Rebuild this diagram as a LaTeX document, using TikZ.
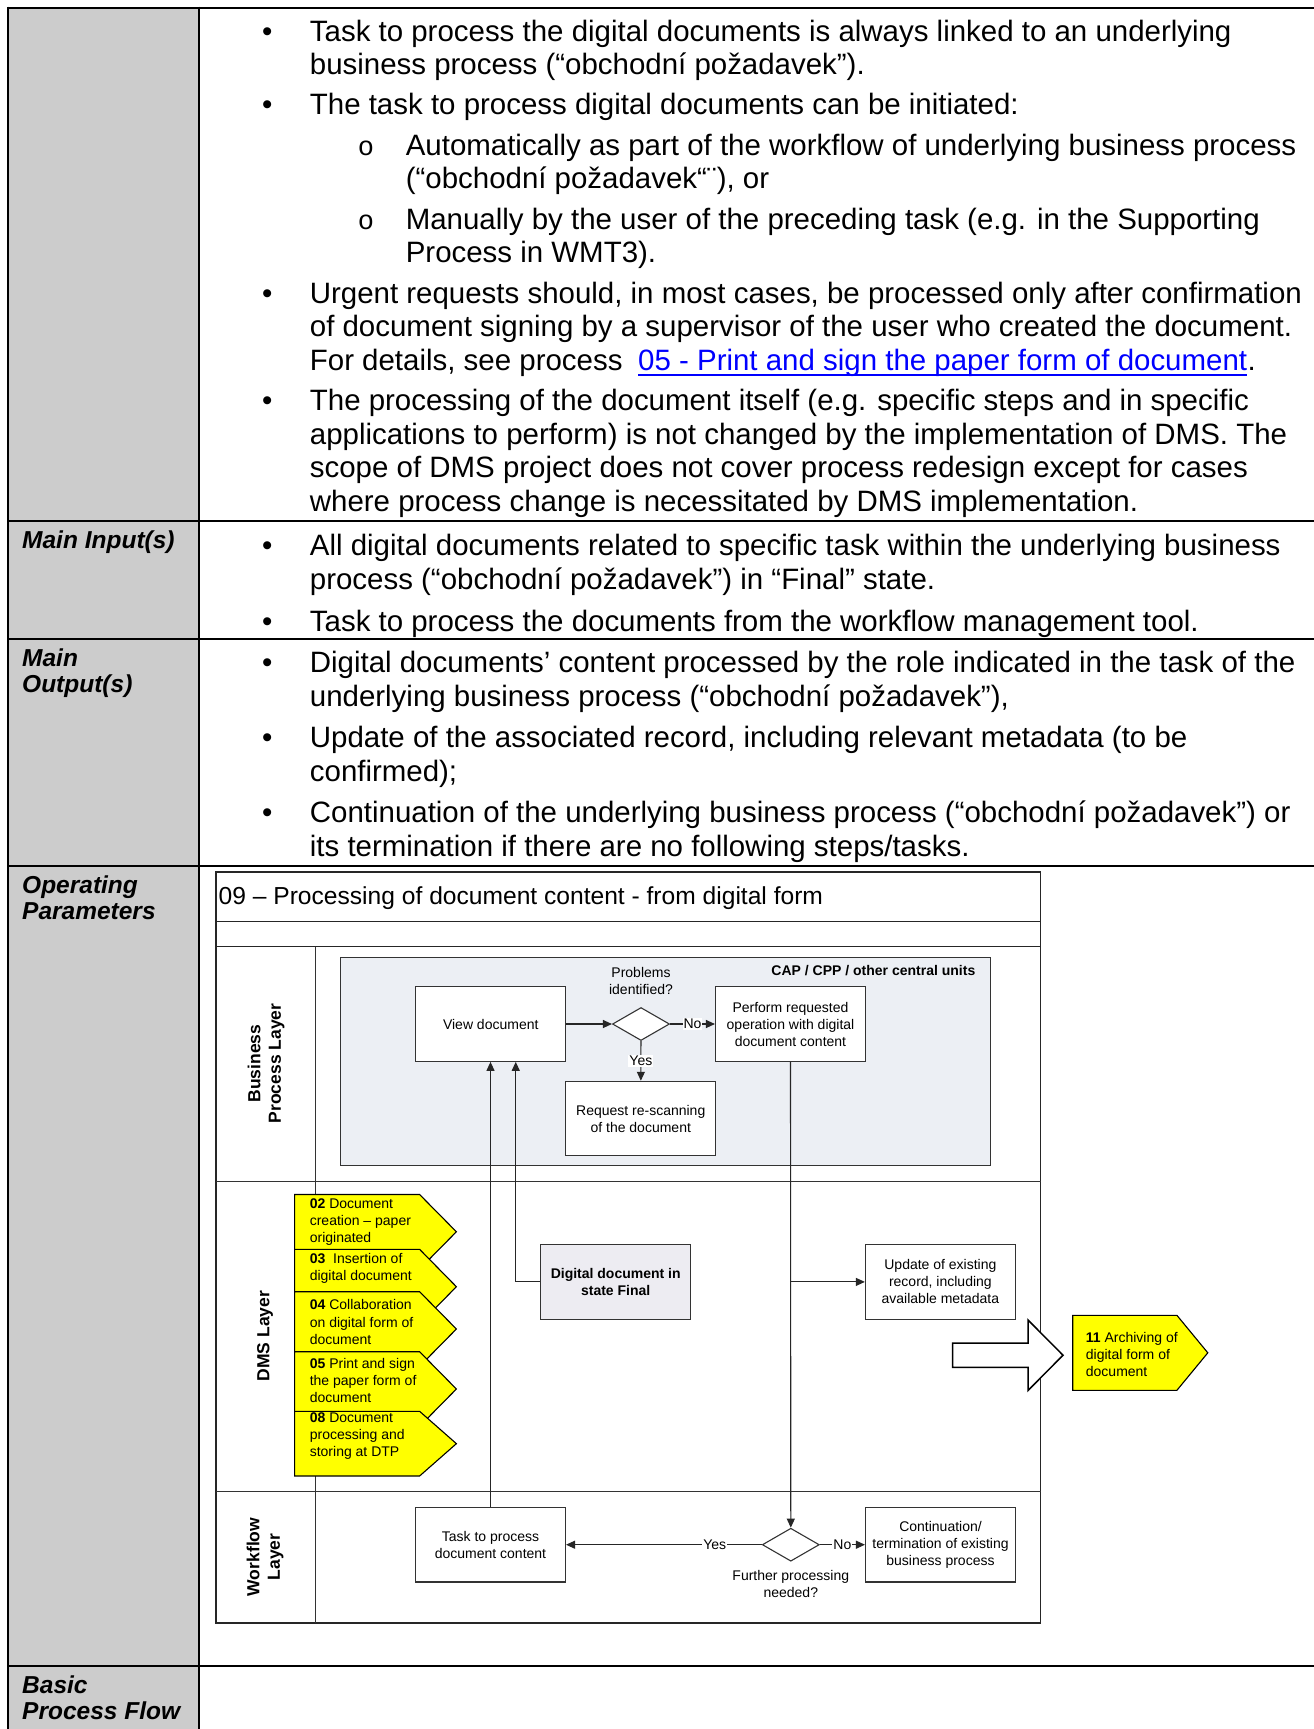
\documentclass[tikz,border=0pt]{standalone}
\usepackage{fontspec}
\setmainfont{Liberation Sans}[Ligatures={TeX,CommonOff}]
\newfontfamily\bulletmono{Liberation Mono}
\usetikzlibrary{arrows.meta,calc,shapes.geometric}
\definecolor{linkblue}{RGB}{0,0,255}
\definecolor{labelgray}{RGB}{204,204,204}
\definecolor{unitfill}{RGB}{236,239,244}
\definecolor{statefill}{RGB}{237,236,242}
\definecolor{procyellow}{RGB}{255,255,0}

\begin{document}
\begin{tikzpicture}[x=1pt,y=-1pt,
  tableline/.style={line width=2pt, black},
  bodytext/.style={anchor=base west, inner sep=0pt, font=\fontsize{29.45}{33.6}\selectfont},
  bulletmark/.style={anchor=base, inner sep=0pt, font=\fontsize{29.45}{33.6}\selectfont},
  submark/.style={anchor=base, inner sep=0pt, font=\fontsize{27}{33.6}\selectfont\bulletmono},
  rowhead/.style={anchor=base west, inner sep=0pt, font=\fontsize{24.5}{26.8}\selectfont\bfseries\itshape},
  frameline/.style={draw=black!85, line width=1.3pt},
  laneline/.style={draw=black!80, line width=1pt},
  lanetitle/.style={rotate=90, align=center, inner sep=0pt, font=\fontsize{17.5}{20.5}\selectfont\bfseries},
  stepbox/.style={draw=black!80, line width=1.1pt, fill=white, minimum width=150pt, minimum height=74.6pt, inner sep=0pt, align=center, font=\fontsize{14}{17}\selectfont},
  decision/.style={diamond, draw=black!80, line width=1.1pt, fill=white, minimum width=57pt, minimum height=33pt, inner sep=0pt},
  flow/.style={draw=black!85, line width=1.1pt, -{Triangle[length=9pt,width=8pt]}},
  flowlabel/.style={fill=white, inner sep=1pt, font=\fontsize{14}{17}\selectfont},
  smalltext/.style={inner sep=0pt, align=center, font=\fontsize{14}{17}\selectfont},
  procshape/.style={fill=procyellow, draw=black, line width=1.1pt, line join=miter},
  proctext/.style={anchor=west, inner sep=0pt, align=left, font=\fontsize{14}{17.2}\selectfont},
]
\useasboundingbox (0,0) rectangle (1314,1729);

% ---------- table ----------
\fill[labelgray] (7.5,7.5) rectangle (198.5,1729);
\draw[tableline] (7.5,7.5) -- (1314,7.5);
\draw[tableline] (7.5,521) -- (1314,521);
\draw[tableline] (7.5,639) -- (1314,639);
\draw[tableline] (7.5,866) -- (1314,866);
\draw[tableline] (7.5,1666) -- (1314,1666);
\draw[tableline] (7.5,6.5) -- (7.5,1729);
\draw[tableline] (198.5,6.5) -- (198.5,1729);

% row headings
\node[rowhead] (h1a) at (22,548) {Main Input(s)};
\node[rowhead] (h2a) at (22,666) {Main};
\node[rowhead] (h2b) at (22,692.8) {Output(s)};
\node[rowhead] (h3a) at (22,893) {Operating};
\node[rowhead] (h3b) at (22,919.8) {Parameters};
\node[rowhead] (h4a) at (22,1693) {Basic};
\node[rowhead] (h4b) at (22,1719.8) {Process Flow};

% first row
\node[bulletmark] (b1) at (267.3,41) {•};
\node[bodytext] (t1) at (309.7,41) {Task to process the digital documents is always linked to an underlying};
\node[bodytext] (t2) at (309.7,74.6) {business process (“obchodní požadavek”).};
\node[bulletmark] (b2) at (267.3,114.9) {•};
\node[bodytext] (t3) at (309.7,114.9) {The task to process digital documents can be initiated:};
\node[submark] (s1) at (366,155.2) {o};
\node[bodytext] (t4) at (405.6,155.2) {Automatically as part of the workflow of underlying business process};
\node[bodytext] (t5) at (405.6,188.8) {(“obchodní požadavek“¨), or};
\node[submark] (s2) at (366,229.1) {o};
\node[bodytext] (t6) at (405.6,229.1) {Manually by the user of the preceding task (e.g. in the Supporting};
\node[bodytext] (t7) at (405.6,262.7) {Process in WMT3).};
\node[bulletmark] (b3) at (267.3,303) {•};
\node[bodytext] (t8) at (309.7,303) {Urgent requests should, in most cases, be processed only after confirmation};
\node[bodytext] (t9) at (309.7,336.6) {of document signing by a supervisor of the user who created the document.};
\node[bodytext] (t10) at (309.7,370.2) {For details, see process};
\node[bodytext, text=linkblue] (link) at (638,370.2) {05 - Print and sign the paper form of document};
\node[bodytext] (stop) at (link.base east) {.};
\draw[linkblue, line width=1.8pt] ($(link.base west)+(0,4.5)$) -- ($(link.base east)+(0,4.5)$);
\node[bulletmark] (b4) at (267.3,410.5) {•};
\node[bodytext] (t11) at (309.7,410.5) {The processing of the document itself (e.g. specific steps and in specific};
\node[bodytext] (t12) at (309.7,444.1) {applications to perform) is not changed by the implementation of DMS. The};
\node[bodytext] (t13) at (309.7,477.7) {scope of DMS project does not cover process redesign except for cases};
\node[bodytext] (t14) at (309.7,511.3) {where process change is necessitated by DMS implementation.};

% inputs
\node[bulletmark] (b5) at (267.3,555.5) {•};
\node[bodytext] (t15) at (309.7,555.5) {All digital documents related to specific task within the underlying business};
\node[bodytext] (t16) at (309.7,589.5) {process (“obchodní požadavek”) in “Final” state.};
\node[bulletmark] (b6) at (267.3,631) {•};
\node[bodytext] (t17) at (309.7,631) {Task to process the documents from the workflow management tool.};

% outputs
\node[bulletmark] (b7) at (267.3,672.3) {•};
\node[bodytext] (t18) at (309.7,672.3) {Digital documents’ content processed by the role indicated in the task of the};
\node[bodytext] (t19) at (309.7,706.3) {underlying business process (“obchodní požadavek”),};
\node[bulletmark] (b8) at (267.3,747.3) {•};
\node[bodytext] (t20) at (309.7,747.3) {Update of the associated record, including relevant metadata (to be};
\node[bodytext] (t21) at (309.7,781.3) {confirmed);};
\node[bulletmark] (b9) at (267.3,822.5) {•};
\node[bodytext] (t22) at (309.7,822.5) {Continuation of the underlying business process (“obchodní požadavek”) or};
\node[bodytext] (t23) at (309.7,856.5) {its termination if there are no following steps/tasks.};

% ---------- process map ----------
\fill[white] (216,872) rectangle (1040.6,1623);
\draw[frameline] (216,872) rectangle (1040.6,1623);
\draw[frameline] (216,921.5) -- (1040.6,921.5);
\draw[frameline] (216,946.5) -- (1040.6,946.5);
\draw[laneline] (315.5,946.5) -- (315.5,1623);
\draw[laneline] (216,1181) -- (1040.6,1181);
\draw[laneline] (216,1491.5) -- (1040.6,1491.5);

\node[anchor=base west, inner sep=0pt, font=\fontsize{24.6}{28}\selectfont] (title) at (218.5,904) {09 – Processing of document content - from digital form};

\node[lanetitle] (lane1) at (266,1063.5) {Business\\Process Layer};
\node[lanetitle] (lane2) at (265,1336) {DMS Layer};
\node[lanetitle] (lane3) at (265,1557) {Workflow\\Layer};

% central units container
\node[draw=black!80, line width=1pt, fill=unitfill, minimum width=649.6pt, minimum height=208.5pt, inner sep=0pt] (unit) at (665.4,1061.25) {};
\node[anchor=east, inner sep=0pt, font=\fontsize{14}{17}\selectfont\bfseries] (unitname) at (975.5,971) {CAP / CPP / other central units};

% steps
\node[stepbox] (view) at (490.75,1024) {View document};
\node[decision] (dec1) at (641,1024) {};
\node[smalltext] (dec1q) at (641,981) {Problems\\identified?};
\node[stepbox] (perform) at (790.5,1024) {Perform requested\\operation with digital\\document content};
\node[stepbox] (rescan) at (640.75,1118.6) {Request re-scanning\\of the document};
\node[stepbox, fill=statefill, font=\fontsize{14}{17}\selectfont\bfseries] (digital) at (615.7,1281.9) {Digital document in\\state Final};
\node[stepbox] (update) at (940.4,1281.9) {Update of existing\\record, including\\available metadata};
\node[stepbox] (task) at (490.5,1544.7) {Task to process\\document content};
\node[decision] (dec2) at (790.8,1544.7) {};
\node[smalltext] (dec2q) at (790.8,1584) {Further processing\\needed?};
\node[stepbox] (cont) at (940.5,1544.7) {Continuation/\\termination of existing\\business process};

% connectors
\draw[flow] (view) -- (dec1);
\draw[flow] (dec1) -- node[flowlabel] (no1) {No} (perform);
\draw[flow] (dec1) -- node[flowlabel] (yes1) {Yes} (rescan);
\draw[flow] (task.north) -- (task.north |- view.south);
\coordinate (viewin) at ($(view.south)+(25,0)$);
\draw[flow] (digital.west) -| (viewin);
\draw[flow] (perform.south) -- (dec2.north);
\coordinate (tap) at (perform.south |- update.west);
\draw[flow] (tap) -- (update.west);
\draw[flow] (dec2) -- node[flowlabel, pos=0.24] (yes2) {Yes} (task);
\draw[flow] (dec2) -- node[flowlabel] (no2) {No} (cont);

% preceding processes
\draw[procshape] (294.6,1194.5) -- (419.6,1194.5) -- (456.4,1231.75) -- (419.6,1269) -- (294.6,1269) -- cycle;
\node[proctext] (p02) at (309.6,1222.3) {\textbf{02} Document\\creation – paper\\originated};
\draw[procshape] (294.6,1249.3) -- (419.6,1249.3) -- (456.4,1286.7) -- (419.6,1324.1) -- (294.6,1324.1) -- cycle;
\node[proctext] (p03) at (309.6,1268.7) {\textbf{03}\ \ Insertion of\\digital document};
\draw[procshape] (294.6,1291.7) -- (419.6,1291.7) -- (456.4,1329) -- (419.6,1366.3) -- (294.6,1366.3) -- cycle;
\node[proctext] (p04) at (309.6,1322) {\textbf{04} Collaboration\\on digital form of\\document};
\draw[procshape] (294.6,1351.7) -- (419.6,1351.7) -- (456.4,1389) -- (419.6,1426.3) -- (294.6,1426.3) -- cycle;
\node[proctext] (p05) at (309.6,1380.3) {\textbf{05} Print and sign\\the paper form of\\document};
\draw[procshape] (294.6,1411.3) -- (419.6,1411.3) -- (456.4,1443.65) -- (419.6,1476) -- (294.6,1476) -- cycle;
\node[proctext] (p08) at (309.6,1436.2) {\textbf{08} Document\\processing and\\storing at DTP};

% hand-over to the next process
\draw[line width=1.5pt, fill=white, line join=miter] (952.5,1343) -- (1028,1343) -- (1028,1320) -- (1063,1355.2) -- (1028,1390.5) -- (1028,1367.3) -- (952.5,1367.3) -- cycle;
\draw[procshape] (1072.7,1315.3) -- (1176.9,1315.3) -- (1207.8,1352.8) -- (1176.9,1390.3) -- (1072.7,1390.3) -- cycle;
\node[proctext] (p11) at (1085.7,1354.4) {\textbf{11} Archiving of\\digital form of\\document};

\end{tikzpicture}
\end{document}
